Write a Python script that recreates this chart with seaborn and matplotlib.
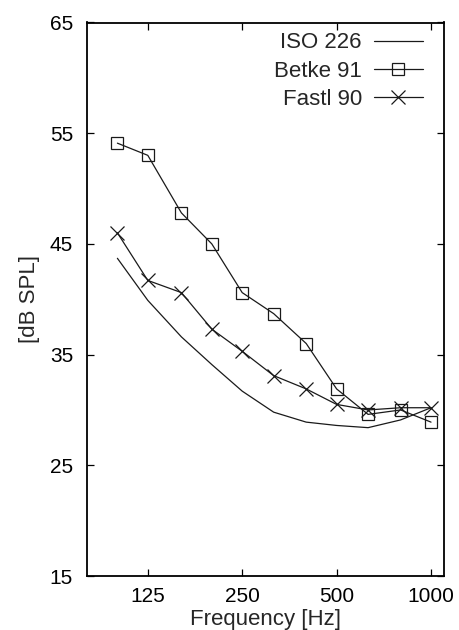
import matplotlib
matplotlib.use("Agg")
import matplotlib.pyplot as plt
import seaborn as sns
from matplotlib.ticker import FixedLocator, FixedFormatter, NullLocator

# Third-octave centre frequencies (Hz)
freqs = [100, 125, 160, 200, 250, 315, 400, 500, 630, 800, 1000]

# Threshold levels in dB SPL
iso_226 = [43.7, 39.9, 36.6, 34.1, 31.7, 29.8, 28.9, 28.6, 28.4, 29.1, 30.2]
betke_91 = [54.1, 53.0, 47.8, 45.0, 40.6, 38.7, 36.0, 31.9, 29.6, 30.0, 28.9]
fastl_90 = [46.0, 41.7, 40.6, 37.3, 35.3, 33.1, 31.9, 30.5, 30.0, 30.2, 30.2]

series_names = ["ISO 226", "Betke 91", "Fastl 90"]
x_ticks = [125, 250, 500, 1000]
y_ticks = [15, 25, 35, 45, 55, 65]

sns.set_style("ticks")
plt.rcParams["font.family"] = ["Liberation Sans", "DejaVu Sans"]

fig = plt.figure(figsize=(4.59, 6.30), dpi=100)
ax = fig.add_axes([87 / 459, 1 - 576 / 630, 357 / 459, 553.5 / 630])

ink = "#1a1a1a"
sns.lineplot(x=freqs, y=iso_226, ax=ax, color=ink, lw=0.9,
             label=series_names[0])
sns.lineplot(x=freqs, y=betke_91, ax=ax, color=ink, lw=0.9,
             marker="s", markersize=9, markerfacecolor="none",
             markeredgecolor=ink, markeredgewidth=0.9,
             label=series_names[1])
sns.lineplot(x=freqs, y=fastl_90, ax=ax, color=ink, lw=0.9,
             marker="x", markersize=10, markeredgecolor=ink,
             markeredgewidth=0.9, label=series_names[2])

ax.set_xscale("log")
ax.set_xlim(80, 1100)
ax.set_ylim(15, 65)
ax.xaxis.set_major_locator(FixedLocator(x_ticks))
ax.xaxis.set_major_formatter(FixedFormatter([str(t) for t in x_ticks]))
ax.xaxis.set_minor_locator(NullLocator())
ax.set_yticks(y_ticks)

for s in ax.spines.values():
    s.set_visible(True)
    s.set_linewidth(1.3)
    s.set_color("black")

ax.tick_params(axis="both", which="major", direction="in", length=5,
               width=0.9, top=True, right=True, labelsize=15,
               colors="black")
ax.tick_params(axis="x", pad=8)
ax.tick_params(axis="y", pad=10)

ax.set_xlabel("Frequency [Hz]", fontsize=16, labelpad=2)
ax.set_ylabel("[dB SPL]", fontsize=16, labelpad=7)

leg = ax.legend(loc="upper right", bbox_to_anchor=(0.941, 0.982),
                frameon=False, markerfirst=False, fontsize=16,
                handlelength=2.2, handletextpad=0.55, labelspacing=0.32,
                borderaxespad=0, borderpad=0)

fig.savefig("out.png", dpi=100)
